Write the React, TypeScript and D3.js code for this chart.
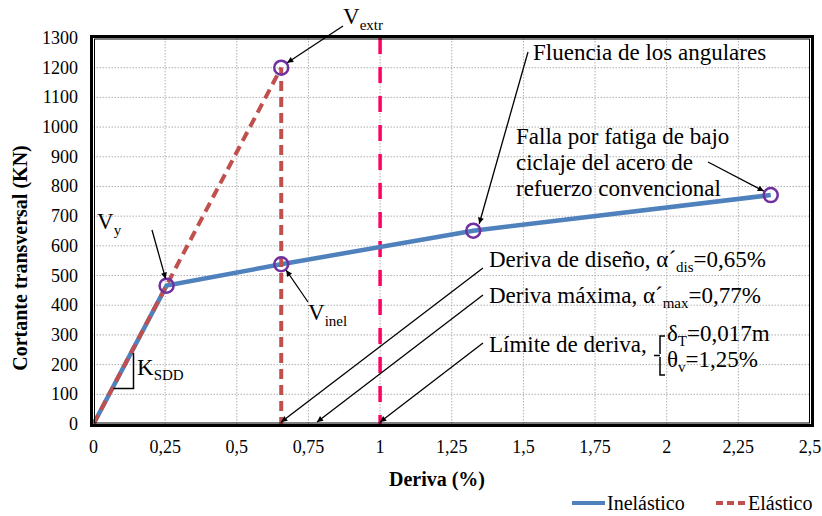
import React from 'react';
import * as d3 from 'd3';

// ejes
const xTicks = [0, 0.25, 0.5, 0.75, 1, 1.25, 1.5, 1.75, 2, 2.25, 2.5];
const yTicks = [0, 100, 200, 300, 400, 500, 600, 700, 800, 900, 1000, 1100, 1200, 1300];

// curvas
const inelasticX = [0, 0.255, 0.655, 1.325, 2.363];
const inelasticY = [0, 466, 538, 651, 771];
const elasticX = [0, 0.655, 0.655];
const elasticY = [0, 1200, 0];

// puntos notables (Vy, Vinel, Vextr, fluencia, falla)
const markerX = [0.255, 0.655, 0.655, 1.325, 2.363];
const markerY = [466, 538, 1200, 651, 771];

// derivas
const designDrift = 0.655;
const maxDrift = 0.78;
const driftLimit = 1;

const seriesNames = ['Inelástico', 'Elástico'];

const FONT = '"Liberation Serif", "Times New Roman", serif';
const BLUE = '#4F81BD';
const RED = '#C0504D';
const PINK = '#FF0066';
const PURPLE = '#7030A0';

export default function App() {
  const width = 822;
  const height = 516;

  const x = d3.scaleLinear().domain([0, 2.5]).range([93.5, 810]);
  const y = d3.scaleLinear().domain([0, 1300]).range([424, 38]);

  const fmt = (d: number) => String(d).replace('.', ',');

  const line = d3.line<[number, number]>()
    .x(d => x(d[0]))
    .y(d => y(d[1]));

  const inelastic = inelasticX.map((v, i) => [v, inelasticY[i]] as [number, number]);
  const elastic = elasticX.map((v, i) => [v, elasticY[i]] as [number, number]);

  const axisY = y(0) - 2;

  return (
    <svg
      width={width}
      height={height}
      style={{ position: 'absolute', top: 0, left: 0, background: '#fff' }}
      fontFamily={FONT}
    >
      <defs>
        <marker id="ah" viewBox="0 0 10 10" refX="10" refY="5"
          markerWidth="9" markerHeight="6" markerUnits="userSpaceOnUse" orient="auto">
          <path d="M0,0 L10,5 L0,10 z" fill="#000" />
        </marker>
      </defs>

      {/* rejilla */}
      {xTicks.slice(1, -1).map(t => (
        <line key={'gx' + t} x1={x(t)} x2={x(t)} y1={y(1300)} y2={y(0)}
          stroke="#B0B0B0" strokeWidth={1} strokeDasharray="1.5,1.5" />
      ))}
      {yTicks.slice(1, -1).map(t => (
        <line key={'gy' + t} x1={x(0)} x2={x(2.5)} y1={y(t)} y2={y(t)}
          stroke="#B0B0B0" strokeWidth={1} strokeDasharray="1.5,1.5" />
      ))}

      {/* límite de deriva */}
      <line x1={x(driftLimit)} x2={x(driftLimit)} y1={y(1300)} y2={y(0)}
        stroke={PINK} strokeWidth={3.5} strokeDasharray="16,13" />

      <path d={line(inelastic) || ''} fill="none" stroke={BLUE} strokeWidth={4.5} />
      <path d={line(elastic) || ''} fill="none" stroke={RED} strokeWidth={4}
        strokeDasharray="10,6" />

      {markerX.map((v, i) => (
        <circle key={'m' + i} cx={x(v)} cy={y(markerY[i])} r={7}
          fill="none" stroke={PURPLE} strokeWidth={2.5} />
      ))}

      {/* marco */}
      <rect x={91.5} y={36.5} width={721} height={389} fill="none" stroke="#000" strokeWidth={3} />
      <rect x={94.5} y={39} width={715} height={384} fill="none" stroke="#000" strokeWidth={1} />

      {/* ticks */}
      {yTicks.map(t => (
        <text key={'ty' + t} x={78} y={y(t) + 6} fontSize={18} textAnchor="end">{t}</text>
      ))}
      {xTicks.map(t => (
        <text key={'tx' + t} x={x(t)} y={453} fontSize={18} textAnchor="middle">{fmt(t)}</text>
      ))}

      {/* títulos */}
      <text x={437} y={486} fontSize={20} fontWeight="bold" textAnchor="middle">Deriva (%)</text>
      <text transform="translate(27,258) rotate(-90)" fontSize={20} fontWeight="bold"
        textAnchor="middle">Cortante transversal (KN)</text>

      {/* anotaciones */}
      <line x1={343} y1={26} x2={x(markerX[2]) + 6} y2={y(markerY[2]) - 5} stroke="#000" strokeWidth={1.3} markerEnd="url(#ah)" />
      <text x={343} y={24} fontSize={23}>V<tspan fontSize={15} dy={6}>extr</tspan></text>

      <line x1={152} y1={230} x2={x(markerX[0]) - 1} y2={y(markerY[0]) - 7} stroke="#000" strokeWidth={1.3} markerEnd="url(#ah)" />
      <text x={97} y={229} fontSize={23}>V<tspan fontSize={15} dy={6}>y</tspan></text>

      <line x1={308} y1={302} x2={x(markerX[1]) + 5} y2={y(markerY[1]) + 6} stroke="#000" strokeWidth={1.3} markerEnd="url(#ah)" />
      <text x={308} y={320} fontSize={23}>V<tspan fontSize={15} dy={6}>inel</tspan></text>

      <path d="M113.5,388.5 H133.5 V353" fill="none" stroke="#000" strokeWidth={1.5} />
      <text x={137} y={375} fontSize={23}>K<tspan fontSize={15} dy={5}>SDD</tspan></text>

      <line x1={528} y1={52} x2={x(markerX[3]) + 6} y2={y(markerY[3]) - 7} stroke="#000" strokeWidth={1.3} markerEnd="url(#ah)" />
      <text x={533} y={60} fontSize={23}>Fluencia de los angulares</text>

      <line x1={708} y1={162} x2={x(markerX[4]) - 7} y2={y(markerY[4]) - 4} stroke="#000" strokeWidth={1.3} markerEnd="url(#ah)" />
      <text x={516} y={144} fontSize={23}>Falla por fatiga de bajo</text>
      <text x={516} y={170} fontSize={23}>ciclaje del acero de</text>
      <text x={516} y={196} fontSize={23}>refuerzo convencional</text>

      <line x1={483} y1={268} x2={x(designDrift)} y2={axisY} stroke="#000" strokeWidth={1.3} markerEnd="url(#ah)" />
      <line x1={483} y1={295} x2={x(maxDrift)} y2={axisY} stroke="#000" strokeWidth={1.3} markerEnd="url(#ah)" />
      <line x1={483} y1={343} x2={x(driftLimit)} y2={axisY} stroke="#000" strokeWidth={1.3} markerEnd="url(#ah)" />

      <text x={489} y={267} fontSize={23}>
        Deriva de diseño, α´<tspan fontSize={15} dy={5}>dis</tspan><tspan dy={-5}>=0,65%</tspan>
      </text>
      <text x={489} y={303} fontSize={23}>
        Deriva máxima, α´<tspan fontSize={15} dy={5}>max</tspan><tspan dy={-5}>=0,77%</tspan>
      </text>
      <text x={489} y={352} fontSize={23}>Límite de deriva,</text>
      <path d="M665,336 H660 V354 M654,355.5 H660 M660,357 V375 H665" fill="none" stroke="#000" strokeWidth={1.5} />
      <text x={667} y={341} fontSize={23}>
        δ<tspan fontSize={15} dy={5}>T</tspan><tspan dy={-5}>=0,017m</tspan>
      </text>
      <text x={667} y={367} fontSize={23}>
        θ<tspan fontSize={15} dy={5}>v</tspan><tspan dy={-5}>=1,25%</tspan>
      </text>

      {/* leyenda */}
      <line x1={572} x2={605} y1={503} y2={503} stroke={BLUE} strokeWidth={4} />
      <text x={607} y={510} fontSize={20}>{seriesNames[0]}</text>
      <line x1={716} x2={746} y1={503} y2={503} stroke={RED} strokeWidth={4} strokeDasharray="7,4" />
      <text x={748} y={510} fontSize={20}>{seriesNames[1]}</text>
    </svg>
  );
}
